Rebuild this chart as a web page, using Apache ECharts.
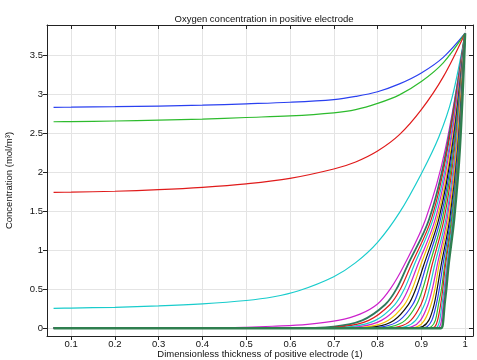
<!DOCTYPE html>
<html><head><meta charset="utf-8">
<script src="https://cdn.jsdelivr.net/npm/echarts@6/dist/echarts.min.js"></script>
<style>html,body{margin:0;padding:0;background:#fff}#c{width:477px;height:360px}</style>
</head><body><div id="c"></div>
<script>
// ---- data ----
const xTicks = [0.1,0.2,0.3,0.4,0.5,0.6,0.7,0.8,0.9,1];
const yTicks = [0,0.5,1,1.5,2,2.5,3,3.5];

const curveBlue = [[0.06,2.83],[0.1,2.832],[0.2,2.838],[0.3,2.846],[0.4,2.858],[0.5,2.875],[0.6,2.895],[0.7,2.93],[0.75,2.97],[0.8,3.03],[0.85,3.13],[0.9,3.27],[0.95,3.47],[1.0,3.78]];
const curveGreen = [[0.06,2.645],[0.1,2.648],[0.2,2.655],[0.3,2.665],[0.4,2.68],[0.5,2.70],[0.6,2.72],[0.7,2.76],[0.75,2.80],[0.8,2.88],[0.85,2.99],[0.9,3.16],[0.95,3.40],[1.0,3.78]];
const curveRed = [[0.06,1.74],[0.1,1.743],[0.2,1.755],[0.3,1.775],[0.4,1.805],[0.5,1.85],[0.6,1.92],[0.7,2.04],[0.75,2.13],[0.8,2.27],[0.85,2.48],[0.9,2.80],[0.95,3.22],[1.0,3.78]];
const curveCyan = [[0.06,0.255],[0.1,0.258],[0.2,0.268],[0.3,0.285],[0.4,0.312],[0.5,0.355],[0.56,0.40],[0.62,0.48],[0.7,0.66],[0.75,0.84],[0.8,1.10],[0.85,1.48],[0.9,1.98],[0.94,2.45],[0.97,2.95],[1.0,3.78]];
const curveMagenta = [[0.06,0],[0.42,0.003],[0.5,0.012],[0.56,0.025],[0.64,0.05],[0.71,0.10],[0.76,0.18],[0.80,0.31],[0.83,0.51],[0.86,0.80],[0.91,1.40],[0.955,2.30],[1.0,3.78]];

// steep front curves: x position where each curve reaches these concentration levels
const frontLevels = [0, 0.02, 0.1, 0.3, 0.5, 0.8, 1.4, 2.3, 3.78];
const frontColors = ['#2c7a5c','#e01b1b','#19cccc','#cc22cc','#f2c200','#111111','#2a40f0','#2dbb2d','#e01b1b','#19cccc','#cc22cc','#f2c200','#111111','#2a40f0','#2dbb2d','#e01b1b','#19cccc','#cc22cc','#2f7f4f'];
const frontX = [
  [0.600,0.700,0.765,0.817,0.843,0.868,0.918,0.958,1],
  [0.628,0.720,0.780,0.828,0.852,0.876,0.923,0.960,1],
  [0.655,0.740,0.795,0.839,0.861,0.883,0.927,0.963,1],
  [0.683,0.760,0.809,0.850,0.870,0.891,0.932,0.965,1],
  [0.710,0.779,0.824,0.861,0.879,0.898,0.936,0.968,1],
  [0.735,0.797,0.837,0.870,0.887,0.905,0.940,0.970,1],
  [0.759,0.814,0.850,0.880,0.895,0.911,0.944,0.972,1],
  [0.783,0.831,0.863,0.889,0.903,0.918,0.948,0.974,1],
  [0.807,0.849,0.876,0.899,0.911,0.924,0.952,0.976,1],
  [0.828,0.864,0.887,0.907,0.918,0.930,0.956,0.978,1],
  [0.848,0.879,0.898,0.915,0.925,0.936,0.959,0.980,1],
  [0.866,0.891,0.907,0.922,0.931,0.940,0.962,0.981,1],
  [0.883,0.903,0.917,0.929,0.936,0.945,0.965,0.983,1],
  [0.897,0.913,0.924,0.934,0.941,0.949,0.967,0.984,1],
  [0.911,0.923,0.932,0.939,0.946,0.953,0.969,0.985,1],
  [0.921,0.931,0.937,0.944,0.949,0.955,0.971,0.986,1],
  [0.929,0.937,0.942,0.947,0.952,0.958,0.972,0.987,1],
  [0.936,0.942,0.946,0.950,0.954,0.960,0.974,0.987,1],
  [0.945,0.948,0.950,0.953,0.957,0.962,0.975,0.988,1]
];
const frontStartX = 0.06;

// ---- chart ----
const chart = echarts.init(document.getElementById('c'), null, {renderer:'canvas'});
const FONT = 'Liberation Sans, Arial, sans-serif';
const lineSeries = (data, color, width) => ({
  type:'line', data, showSymbol:false, symbol:'none', smooth:0.35,
  lineStyle:{color, width: width||1.2}, silent:true, animation:false, xAxisIndex:0, yAxisIndex:0
});
const series = [];
series.push(lineSeries(curveBlue,'#2a40f0'));
series.push(lineSeries(curveGreen,'#2dbb2d'));
series.push(lineSeries(curveRed,'#e01b1b'));
series.push(lineSeries(curveCyan,'#19cccc'));
series.push(lineSeries(curveMagenta,'#cc22cc'));
frontX.forEach((xs,i)=>{
  const pts = [[frontStartX,0]].concat(xs.map((x,k)=>[x,frontLevels[k]]));
  const last = i===frontX.length-1, first = i===0;
  series.push(lineSeries(pts, frontColors[i], last?2.4:(first?1.8:1.2)));
});

const axisLineStyle = {color:'#222', width:1};
chart.setOption({
  animation:false,
  backgroundColor:'#fff',
  title:{text:'Oxygen concentration in positive electrode', left:259, top:9, textAlign:'center',
    textStyle:{fontFamily:FONT, fontSize:9.5, fontWeight:'normal', color:'#111'}},
  grid:{left:47, right:4, top:25, bottom:24, outerBoundsMode:'none', containLabel:false, show:false},
  xAxis:[
    {type:'value', min:0.045, max:1.018, position:'bottom',
     name:'Dimensionless thickness of positive electrode (1)', nameLocation:'middle', nameGap:13,
     nameMoveOverlap:false,
     nameTextStyle:{fontFamily:FONT, fontSize:9.5, color:'#111', verticalAlign:'top'},
     axisLine:{show:true, onZero:false, lineStyle:axisLineStyle},
     axisTick:{show:true, inside:false, length:4, customValues:xTicks, lineStyle:axisLineStyle},
     axisLabel:{show:true, customValues:xTicks, fontFamily:FONT, fontSize:9.5, color:'#111', margin:3},
     splitLine:{show:true, lineStyle:{color:'#e4e4e4', width:1}}},
    {type:'value', min:0.045, max:1.018, position:'top',
     axisLine:{show:true, onZero:false, lineStyle:axisLineStyle},
     axisTick:{show:true, inside:true, length:4, customValues:xTicks, lineStyle:axisLineStyle},
     axisLabel:{show:false}, splitLine:{show:false}}
  ],
  yAxis:[
    {type:'value', min:-0.1, max:3.885, position:'left',
     name:'Concentration (mol/m³)', nameLocation:'middle', nameGap:33, nameRotate:90,
     nameMoveOverlap:false,
     nameTextStyle:{fontFamily:FONT, fontSize:9.5, color:'#111'},
     axisLine:{show:true, onZero:false, lineStyle:axisLineStyle},
     axisTick:{show:true, inside:false, length:4, customValues:yTicks, lineStyle:axisLineStyle},
     axisLabel:{show:true, customValues:yTicks, fontFamily:FONT, fontSize:9.5, color:'#111', margin:4},
     splitLine:{show:true, lineStyle:{color:'#e4e4e4', width:1}}},
    {type:'value', min:-0.1, max:3.885, position:'right',
     axisLine:{show:true, onZero:false, lineStyle:axisLineStyle},
     axisTick:{show:true, inside:true, length:4, customValues:yTicks, lineStyle:axisLineStyle},
     axisLabel:{show:false}, splitLine:{show:false}}
  ],
  series
});
</script></body></html>
